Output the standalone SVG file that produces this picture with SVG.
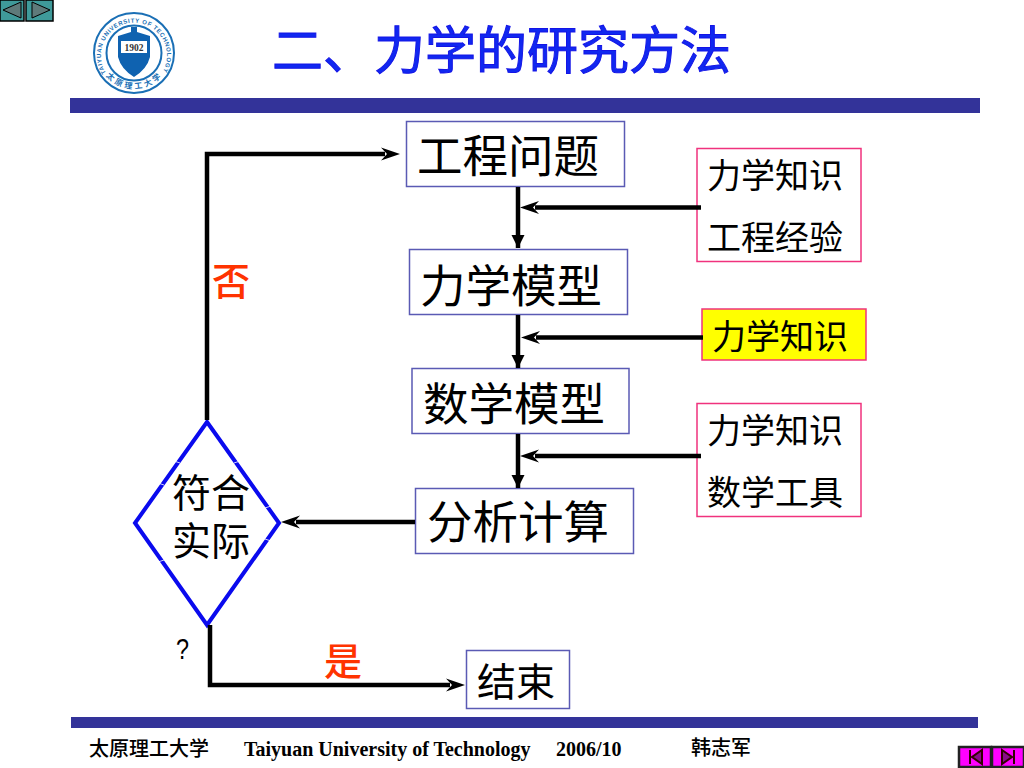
<svg xmlns="http://www.w3.org/2000/svg" width="1024" height="768" viewBox="0 0 1024 768">
<style>
text{font-family:"Noto Sans CJK SC","Liberation Sans",sans-serif;fill:#000}
.box{fill:#fff;stroke:#5a5ab4;stroke-width:1.5}
.pk{fill:#fff;stroke:#f0327d;stroke-width:1.5}
.big{font-size:45.500px}
.mid{font-size:34px}
.dec{font-size:39px}
.red{font-size:38px;fill:#ff3300;font-weight:500}
.ln{fill:none;stroke:#000;stroke-width:4.500}
.bar{fill:#333399}
.foot{font-family:"Liberation Serif","Noto Sans CJK SC",serif;font-size:20px;font-weight:bold}
.cjkf{font-size:20px;font-weight:500}
.ttl{font-size:51px;font-weight:400;fill:#1028f0;stroke:#1414e6;stroke-width:1}
.nick{stroke:#fff;stroke-width:0.800;fill:none}
</style>
<defs>
<marker id="sol" markerUnits="userSpaceOnUse" markerWidth="14" markerHeight="14" refX="13" refY="6.500" orient="auto"><path d="M0 0L13 6.500L0 13Z" fill="#000"/></marker>
<marker id="stl" markerUnits="userSpaceOnUse" markerWidth="22" markerHeight="16" refX="4" refY="7" orient="auto"><path d="M0 0.500L19 7L0 13.500L6 7Z" fill="#000"/></marker>
</defs>
<rect width="1024" height="768" fill="#fff"/>
<g id="nav-back"><rect x="0" y="0" width="24" height="21" fill="#3f9a9a" stroke="#000" stroke-width="1.500"/><path d="M3 10L21 2V18Z" fill="#5f7a7a" stroke="#000"/></g>
<g id="nav-forward"><rect x="26" y="0" width="27" height="21" fill="#3f9a9a" stroke="#000" stroke-width="1.500"/><path d="M32 2L50 10L32 18Z" fill="#5f7a7a" stroke="#000"/></g>
<g id="logo">
<circle cx="134" cy="53" r="40" fill="#fff" stroke="#1a6fb5" stroke-width="2"/>
<circle cx="134" cy="53" r="27.500" fill="#fff" stroke="#1a6fb5" stroke-width="2"/>
<path d="M118 36L131 32V27H137V32L150 36V57Q147 69 134 77Q121 69 118 57Z" fill="#0f62b0"/>
<rect x="121" y="41" width="26" height="12" fill="#fff"/>
<text x="134" y="51" text-anchor="middle" style="font-family:'Liberation Serif',serif;font-size:9.500px;font-weight:bold;fill:#333">1902</text>
<path id="top" d="M106 73A33 33 0 1 1 162 73" fill="none"/>
<text style="font-family:'Liberation Sans',sans-serif;font-size:6px;font-weight:bold;fill:#1a6fb5"><textPath href="#top" textLength="138" lengthAdjust="spacing">TAIYUAN UNIVERSITY OF TECHNOLOGY</textPath></text>
<path id="bot" d="M106 76A37 37 0 0 0 162 76" fill="none"/>
<text style="font-size:8px;font-weight:bold;fill:#1a6fb5"><textPath href="#bot" textLength="62" lengthAdjust="spacing">太原理工大学</textPath></text>
</g>
<g id="title">
<text class="ttl" x="272" y="69">二、力学的研究方法</text>
</g>
<rect id="bar-top" class="bar" x="70" y="98" width="910" height="15"/>
<rect id="bar-bottom" class="bar" x="71" y="717" width="907" height="11"/>
<g id="n1"><rect class="box" x="406.500" y="121.500" width="218" height="65"/><text class="big" x="417" y="173">工程问题</text></g>
<g id="n2"><rect class="box" x="409.500" y="249.500" width="218" height="65"/><text class="big" x="420" y="303">力学模型</text></g>
<g id="n3"><rect class="box" x="412" y="368.500" width="217" height="65"/><text class="big" x="423" y="421">数学模型</text></g>
<g id="n4"><rect class="box" x="415.500" y="488.500" width="218" height="65"/><text class="big" x="427" y="539">分析计算</text></g>
<g id="n5"><rect class="box" x="466.500" y="650.500" width="103" height="58"/><text class="dec" x="477" y="696">结束</text></g>
<g id="k1"><rect class="pk" x="697" y="148.500" width="164" height="113"/><text class="mid" x="707" y="188">力学知识</text><text class="mid" x="707" y="250">工程经验</text></g>
<g id="k2"><rect x="702" y="309" width="164" height="51" fill="#ffff00" stroke="#f0327d" stroke-width="1.500"/><text class="mid" x="712" y="349">力学知识</text></g>
<g id="k3"><rect class="pk" x="697" y="403.500" width="164" height="113"/><text class="mid" x="707" y="443">力学知识</text><text class="mid" x="707" y="505">数学工具</text></g>
<g id="decision"><path d="M207 422L279 523L207 625L135 523Z" fill="#fff" stroke="#0a0aee" stroke-width="4"/>
<path class="nick" d="M174 461L180 463M158 483L164 485M158 562L164 560M234 463L240 461M265 508L271 506M265 539L271 541"/>
<text class="dec" x="172" y="507">符合</text><text class="dec" x="172" y="555">实际</text></g>
<g id="connectors">
<path class="ln" d="M207 420V154H385" marker-end="url(#stl)"/>
<path class="ln" d="M518 187V248" marker-end="url(#sol)"/>
<path class="ln" d="M518 315V368" marker-end="url(#sol)"/>
<path class="ln" d="M518 434V488" marker-end="url(#sol)"/>
<path class="ln" d="M701 207.500H535" marker-end="url(#stl)"/>
<path class="ln" d="M703 337.500H536" marker-end="url(#stl)"/>
<path class="ln" d="M701 456H535" marker-end="url(#stl)"/>
<path class="ln" d="M415 522H296" marker-end="url(#stl)"/>
<path class="ln" d="M210 625V685H450" marker-end="url(#stl)"/>
</g>
<g id="labels">
<text class="red" x="212" y="295">否</text>
<text class="red" x="324" y="675">是</text>
<text x="176" y="659" textLength="13" lengthAdjust="spacingAndGlyphs" style="font-family:'Liberation Sans',sans-serif;font-size:30px">?</text>
</g>
<g id="footer">
<text class="cjkf" x="89" y="756">太原理工大学</text>
<text class="foot" x="244" y="756">Taiyuan University of Technology</text>
<text class="foot" x="556" y="756">2006/10</text>
<text class="cjkf" x="691" y="755">韩志军</text>
</g>
<g id="nav-first"><rect x="959" y="747" width="32" height="20" fill="#ff00ff" stroke="#222" stroke-width="2.500"/><path d="M970 750V764M982 750V764L972 757Z" fill="#8a0a8a" stroke="#300" stroke-width="2"/></g>
<g id="nav-last"><rect x="992" y="747" width="32" height="20" fill="#ff00ff" stroke="#222" stroke-width="2.500"/><path d="M1002 750L1012 757L1002 764ZM1014 750V764" fill="#8a0a8a" stroke="#300" stroke-width="2"/></g>
</svg>
